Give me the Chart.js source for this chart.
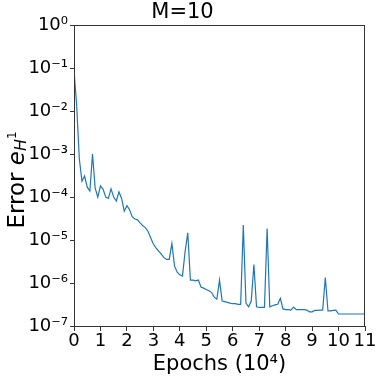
<!DOCTYPE html>
<html>
<head>
<meta charset="utf-8">
<script src="https://cdn.jsdelivr.net/npm/chart.js@4/dist/chart.umd.min.js"></script>
<style>
  html, body { margin: 0; padding: 0; background: #fff; }
  #wrap { width: 381px; height: 382px; }
</style>
</head>
<body>
<div id="wrap"><canvas id="errChart" width="381" height="382"></canvas></div>
<script>
// epochs in units of 10^4
const epochs = [
  0.0, 0.1, 0.2, 0.3, 0.4, 0.5, 0.6, 0.7, 0.8, 0.9,
  1.0, 1.1, 1.2, 1.3, 1.4, 1.5, 1.6, 1.7, 1.8, 1.9,
  2.0, 2.1, 2.2, 2.3, 2.4, 2.5, 2.6, 2.7, 2.8, 2.9,
  3.0, 3.1, 3.2, 3.3, 3.4, 3.5, 3.6, 3.7, 3.8, 3.9,
  4.0, 4.1, 4.2, 4.3, 4.4, 4.5, 4.6, 4.7, 4.8, 4.9,
  5.0, 5.1, 5.2, 5.3, 5.4, 5.5, 5.6, 5.7, 5.8, 5.9,
  6.0, 6.1, 6.2, 6.3, 6.4, 6.5, 6.6, 6.7, 6.8, 6.9,
  7.0, 7.1, 7.2, 7.3, 7.4, 7.5, 7.6, 7.7, 7.8, 7.9,
  8.0, 8.1, 8.2, 8.3, 8.4, 8.5, 8.6, 8.7, 8.8, 8.9,
  9.0, 9.1, 9.2, 9.3, 9.4, 9.5, 9.6, 9.7, 9.8, 9.9,
  10.0, 10.1, 10.2, 10.3, 10.4, 10.5, 10.6, 10.7, 10.8, 10.9, 11.0
];

const errH1 = [
  8.9e-2, 1.4e-2, 7.9e-4, 2.34e-4, 3.09e-4, 1.7e-4, 1.38e-4, 1.0e-3, 1.62e-4, 1.0e-4,
  1.82e-4, 1.51e-4, 1.0e-4, 9.3e-5, 1.55e-4, 1.0e-4, 8.1e-5, 1.32e-4, 9.3e-5, 4.7e-5,
  6.3e-5, 5.1e-5, 3.5e-5, 3.1e-5, 2.95e-5, 2.5e-5, 2.14e-5, 1.95e-5, 1.58e-5, 1.12e-5,
  8.1e-6, 6.6e-6, 5.5e-6, 4.7e-6, 3.9e-6, 3.55e-6, 3.55e-6, 8.3e-6, 2.5e-6, 1.78e-6,
  1.55e-6, 1.45e-6, 5.4e-6, 1.48e-5, 1.17e-6, 1.17e-6, 1.12e-6, 1.17e-6, 8.1e-7, 7.6e-7,
  7.1e-7, 6.6e-7, 6.0e-7, 4.7e-7, 4.2e-7, 1.17e-6, 3.8e-7, 3.7e-7, 3.55e-7, 3.4e-7,
  3.3e-7, 3.3e-7, 3.2e-7, 3.2e-7, 2.24e-5, 3.4e-7, 2.8e-7, 3.8e-7, 2.7e-6, 2.8e-7,
  2.7e-7, 2.7e-7, 2.7e-7, 1.86e-5, 2.8e-7, 2.95e-7, 3.1e-7, 3.2e-7, 4.4e-7, 2.5e-7,
  2.4e-7, 2.4e-7, 2.35e-7, 2.75e-7, 2.4e-7, 2.4e-7, 2.4e-7, 2.4e-7, 2.35e-7, 2.14e-7,
  2.14e-7, 2.3e-7, 2.3e-7, 2.35e-7, 2.35e-7, 1.35e-6, 2.24e-7, 2.24e-7, 2.3e-7, 2.35e-7,
  1.9e-7, 1.9e-7, 1.9e-7, 1.9e-7, 1.9e-7, 1.9e-7, 1.9e-7, 1.9e-7, 1.9e-7, 1.9e-7, 1.9e-7
];

const xTicks = [0, 1, 2, 3, 4, 5, 6, 7, 8, 9, 10, 11];
const yTicks = [1e-7, 1e-6, 1e-5, 1e-4, 1e-3, 1e-2, 1e-1, 1e0];
const yTickLabels = ['10⁻⁷', '10⁻⁶', '10⁻⁵', '10⁻⁴', '10⁻³', '10⁻²', '10⁻¹', '10⁰'];

const FONT = "'DejaVu Sans', sans-serif";

// frame around plot area + y label with sub/superscript
const framePlugin = {
  id: 'frame',
  afterDraw(chart) {
    const { ctx, chartArea: a } = chart;
    ctx.save();
    ctx.strokeStyle = '#333';
    ctx.lineWidth = 1;
    ctx.strokeRect(Math.round(a.left) + 0.5, Math.round(a.top) + 0.5,
      Math.round(a.right - a.left) - 1, Math.round(a.bottom - a.top));

    // y axis label: Error e_{H^1}
    const parts = [
      { t: 'Error ', f: `23px ${FONT}`, dy: 0 },
      { t: 'e', f: `italic 23px ${FONT}`, dy: 0 },
      { t: 'H', f: `italic 16px ${FONT}`, dy: 4 },
      { t: '1', f: `12px ${FONT}`, dy: -5 }
    ];
    let w = 0;
    parts.forEach(p => { ctx.font = p.f; p.w = ctx.measureText(p.t).width; w += p.w; });
    ctx.translate(18, 180);
    ctx.rotate(-Math.PI / 2);
    ctx.fillStyle = '#000';
    ctx.textBaseline = 'middle';
    let x = -w / 2;
    parts.forEach(p => { ctx.font = p.f; ctx.fillText(p.t, x, p.dy); x += p.w; });
    ctx.restore();
  }
};

new Chart(document.getElementById('errChart').getContext('2d'), {
  type: 'line',
  data: {
    datasets: [{
      data: epochs.map((e, i) => ({ x: e, y: errH1[i] })),
      borderColor: '#1f77b4',
      borderWidth: 1.2,
      pointRadius: 0,
      tension: 0,
      fill: false
    }]
  },
  options: {
    responsive: false,
    animation: false,
    events: [],
    layout: { padding: { left: 0, right: 16, top: 0, bottom: 0 } },
    plugins: {
      legend: { display: false },
      tooltip: { enabled: false },
      title: {
        display: true,
        text: 'M=10',
        color: '#000',
        font: { family: FONT, size: 21, weight: 'normal' },
        padding: { top: 0, bottom: 0 }
      }
    },
    scales: {
      x: {
        type: 'linear',
        min: 0,
        max: 11,
        afterBuildTicks: s => { s.ticks = xTicks.map(v => ({ value: v })); },
        afterFit: s => { s.height = 56; },
        grid: { drawOnChartArea: false, drawTicks: true, tickLength: 5, color: '#333' },
        border: { display: false },
        ticks: {
          color: '#000',
          padding: 0,
          maxRotation: 0,
          autoSkip: false,
          font: { family: FONT, size: 18 }
        },
        title: {
          display: true,
          text: 'Epochs (10⁴)',
          color: '#000',
          font: { family: FONT, size: 21 },
          padding: { top: 0, bottom: 5 }
        }
      },
      y: {
        type: 'logarithmic',
        min: 1e-7,
        max: 1,
        afterBuildTicks: s => { s.ticks = yTicks.map(v => ({ value: v })); },
        afterFit: s => { s.width = 74; },
        grid: { drawOnChartArea: false, drawTicks: true, tickLength: 4, color: '#333' },
        border: { display: false },
        ticks: {
          color: '#000',
          padding: 2,
          autoSkip: false,
          font: { family: FONT, size: 18 },
          callback: v => {
            const i = yTicks.findIndex(t => Math.abs(Math.log10(t) - Math.log10(v)) < 1e-6);
            return i >= 0 ? yTickLabels[i] : '';
          }
        }
      }
    }
  },
  plugins: [framePlugin]
});
</script>
</body>
</html>
